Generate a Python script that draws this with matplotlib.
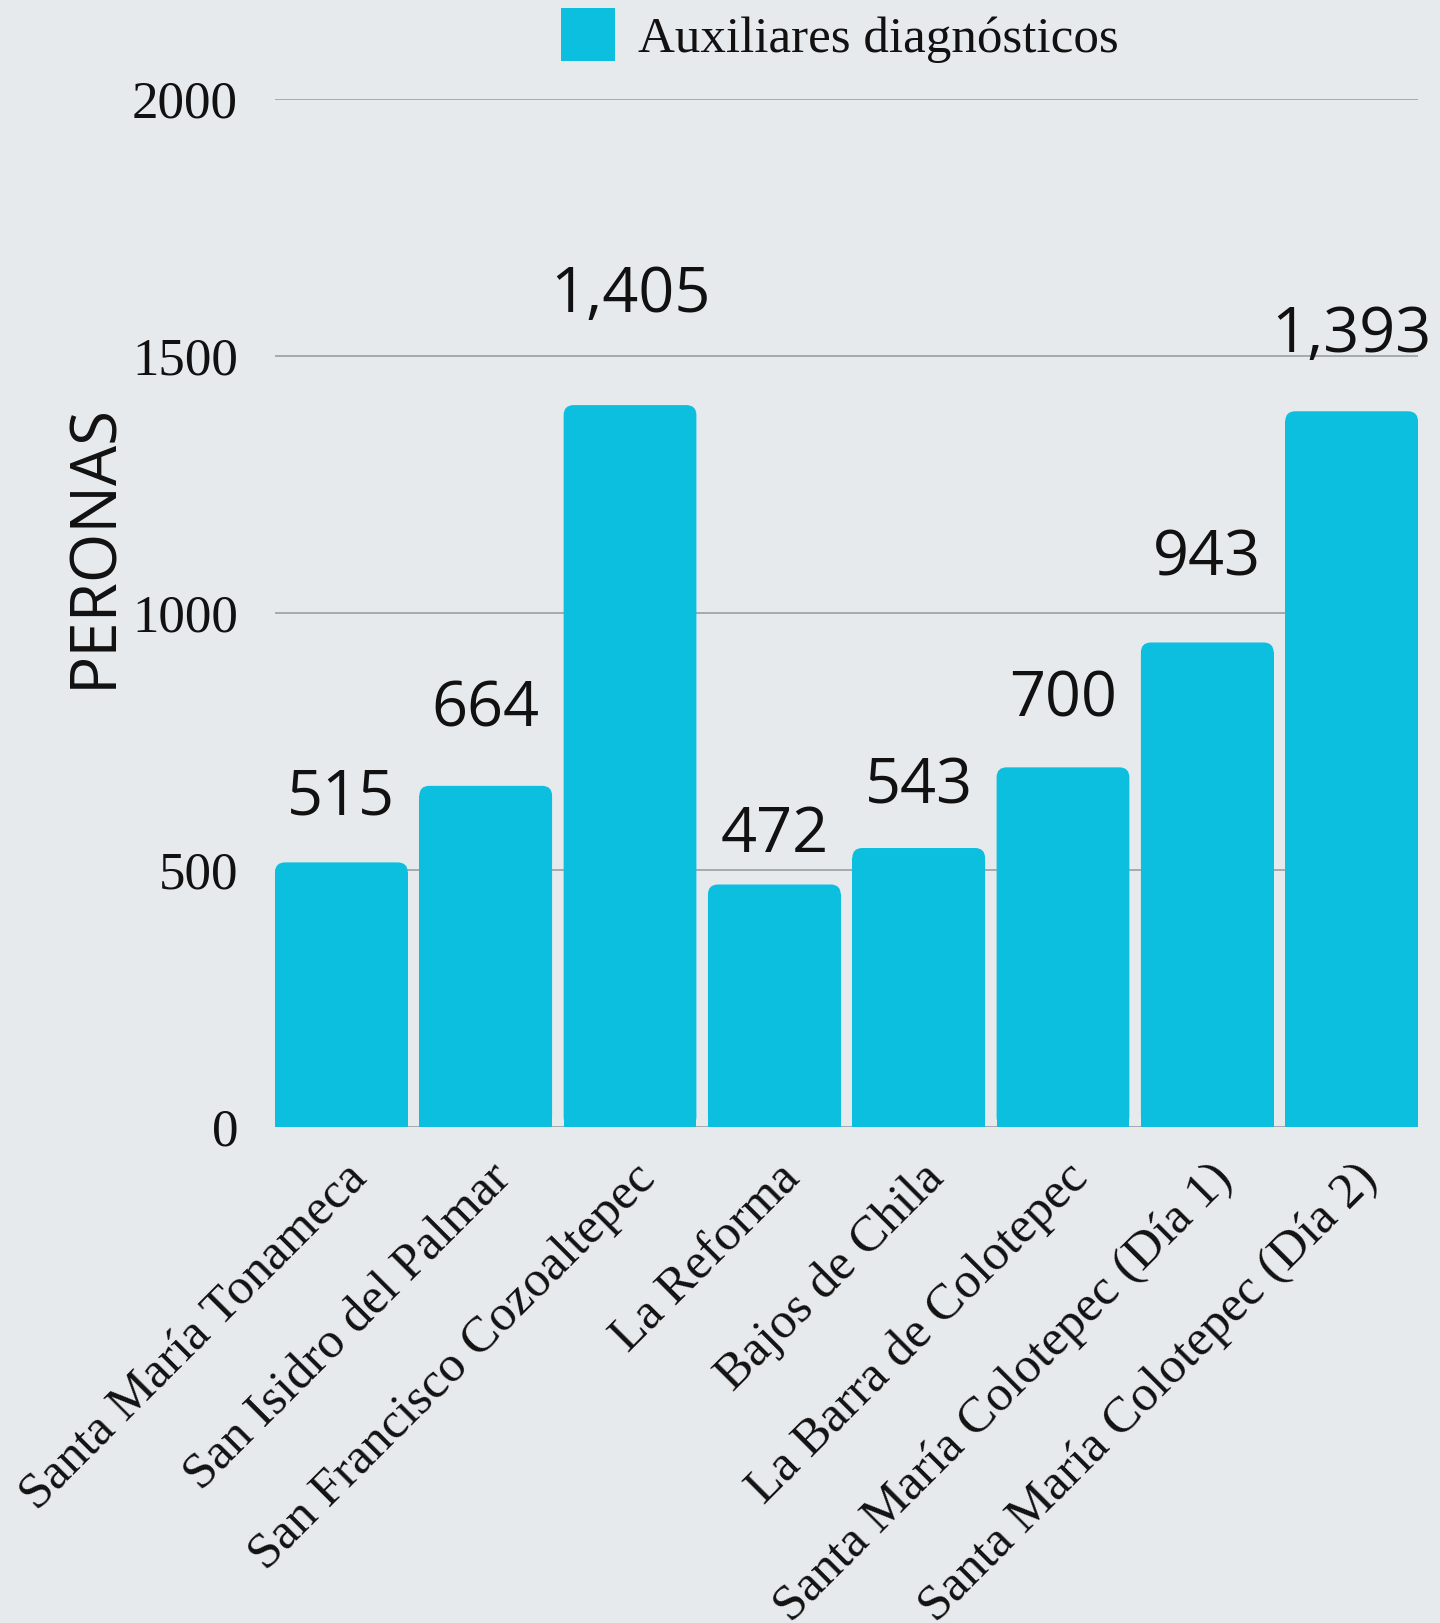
import matplotlib
matplotlib.use("Agg")
import matplotlib.pyplot as plt
from matplotlib.patches import FancyBboxPatch, Patch
from matplotlib.transforms import ScaledTranslation
import numpy as np

categories = [
    "Santa María Tonameca",
    "San Isidro del Palmar",
    "San Francisco Cozoaltepec",
    "La Reforma",
    "Bajos de Chila",
    "La Barra de Colotepec",
    "Santa María Colotepec (Día 1)",
    "Santa María Colotepec (Día 2)",
]
values = [515, 664, 1405, 472, 543, 700, 943, 1393]
value_labels = ["515", "664", "1,405", "472", "543", "700", "943", "1,393"]
series_name = "Auxiliares diagnósticos"
yticks = [0, 500, 1000, 1500, 2000]
ylabel = "PERONAS"

# style: gap (pixels) between bar top and value-label baseline, as in the reference
label_gap_px = [48, 59, 93, 32, 45, 51, 67, 59]

BG = "#e7eaec"
BAR = "#0dbfdf"
SERIF = "Liberation Serif"
SANS = "Open Sans"

DPI = 100
W, H = 1440, 1623
fig = plt.figure(figsize=(W / DPI, H / DPI), dpi=DPI, facecolor=BG)

left, right = 275 / W, 1418 / W
top, bottom = 1 - 99.4 / H, 1 - 1127 / H
ax = fig.add_axes([left, bottom, right - left, top - bottom])
ax.set_facecolor(BG)
px = 72 / DPI  # points per pixel

x = np.arange(len(categories))
bw = 0.92
ax.set_xlim(-0.46, len(categories) - 1 + 0.46)
ax.set_ylim(0, 2000)

# corner radius in data units
slot_px = (1418 - 275) / (len(categories) - 1 + 0.92)
ry = 10 / ((1127 - 99.4) / 2000)
rx = 10 / slot_px

ax.bar(x, np.array(values) - ry, width=bw, color=BAR, zorder=3, linewidth=0)
for xi, v in zip(x, values):
    p = FancyBboxPatch((xi - bw / 2, 0), bw, v,
                       boxstyle=f"round,pad=0,rounding_size={rx}",
                       mutation_aspect=ry / rx, facecolor=BAR,
                       edgecolor="none", zorder=3)
    ax.add_patch(p)

for xi, v, lab, g in zip(x, values, value_labels, label_gap_px):
    ax.annotate(lab, (xi, v), xytext=(0, g * px), textcoords="offset points",
                ha="center", va="baseline", fontsize=63 * px, family=SANS,
                color="#111111", annotation_clip=False)

ax.set_yticks(yticks)
ax.set_yticklabels([str(t) for t in yticks], family=SERIF, fontsize=53 * px,
                   color="#111111")
ax.yaxis.grid(True, color="#a8abad", linewidth=2 * px, zorder=0)
ax.set_axisbelow(True)
ax.tick_params(axis="y", length=0, pad=37 * px)
ax.tick_params(axis="x", length=0, pad=28 * px)

ax.set_xticks(x)
ax.set_xticklabels(categories, family=SERIF, fontsize=51 * px, color="#111111",
                   rotation=45, ha="right", va="top", rotation_mode="anchor")
off = ScaledTranslation(2 / DPI, 0, fig.dpi_scale_trans)
for lbl in ax.get_xticklabels():
    lbl.set_transform(lbl.get_transform() + off)

for s in ax.spines.values():
    s.set_visible(False)

fig.text(94 / W, 1 - 546 / H, ylabel, rotation=90, ha="center", va="center",
         family=SANS, fontsize=63.5 * px, color="#111111")

handle = Patch(facecolor=BAR, edgecolor="none")
fig.legend([handle], [series_name], loc="upper center",
           bbox_to_anchor=(840 / W, 1 - 8 / H), bbox_transform=fig.transFigure,
           frameon=False, prop={"family": SERIF, "size": 51 * px},
           handlelength=1.07, handleheight=1.22, handletextpad=0.45,
           borderpad=0, borderaxespad=0, labelcolor="#111111")

fig.savefig("out.png", dpi=DPI, facecolor=BG)
